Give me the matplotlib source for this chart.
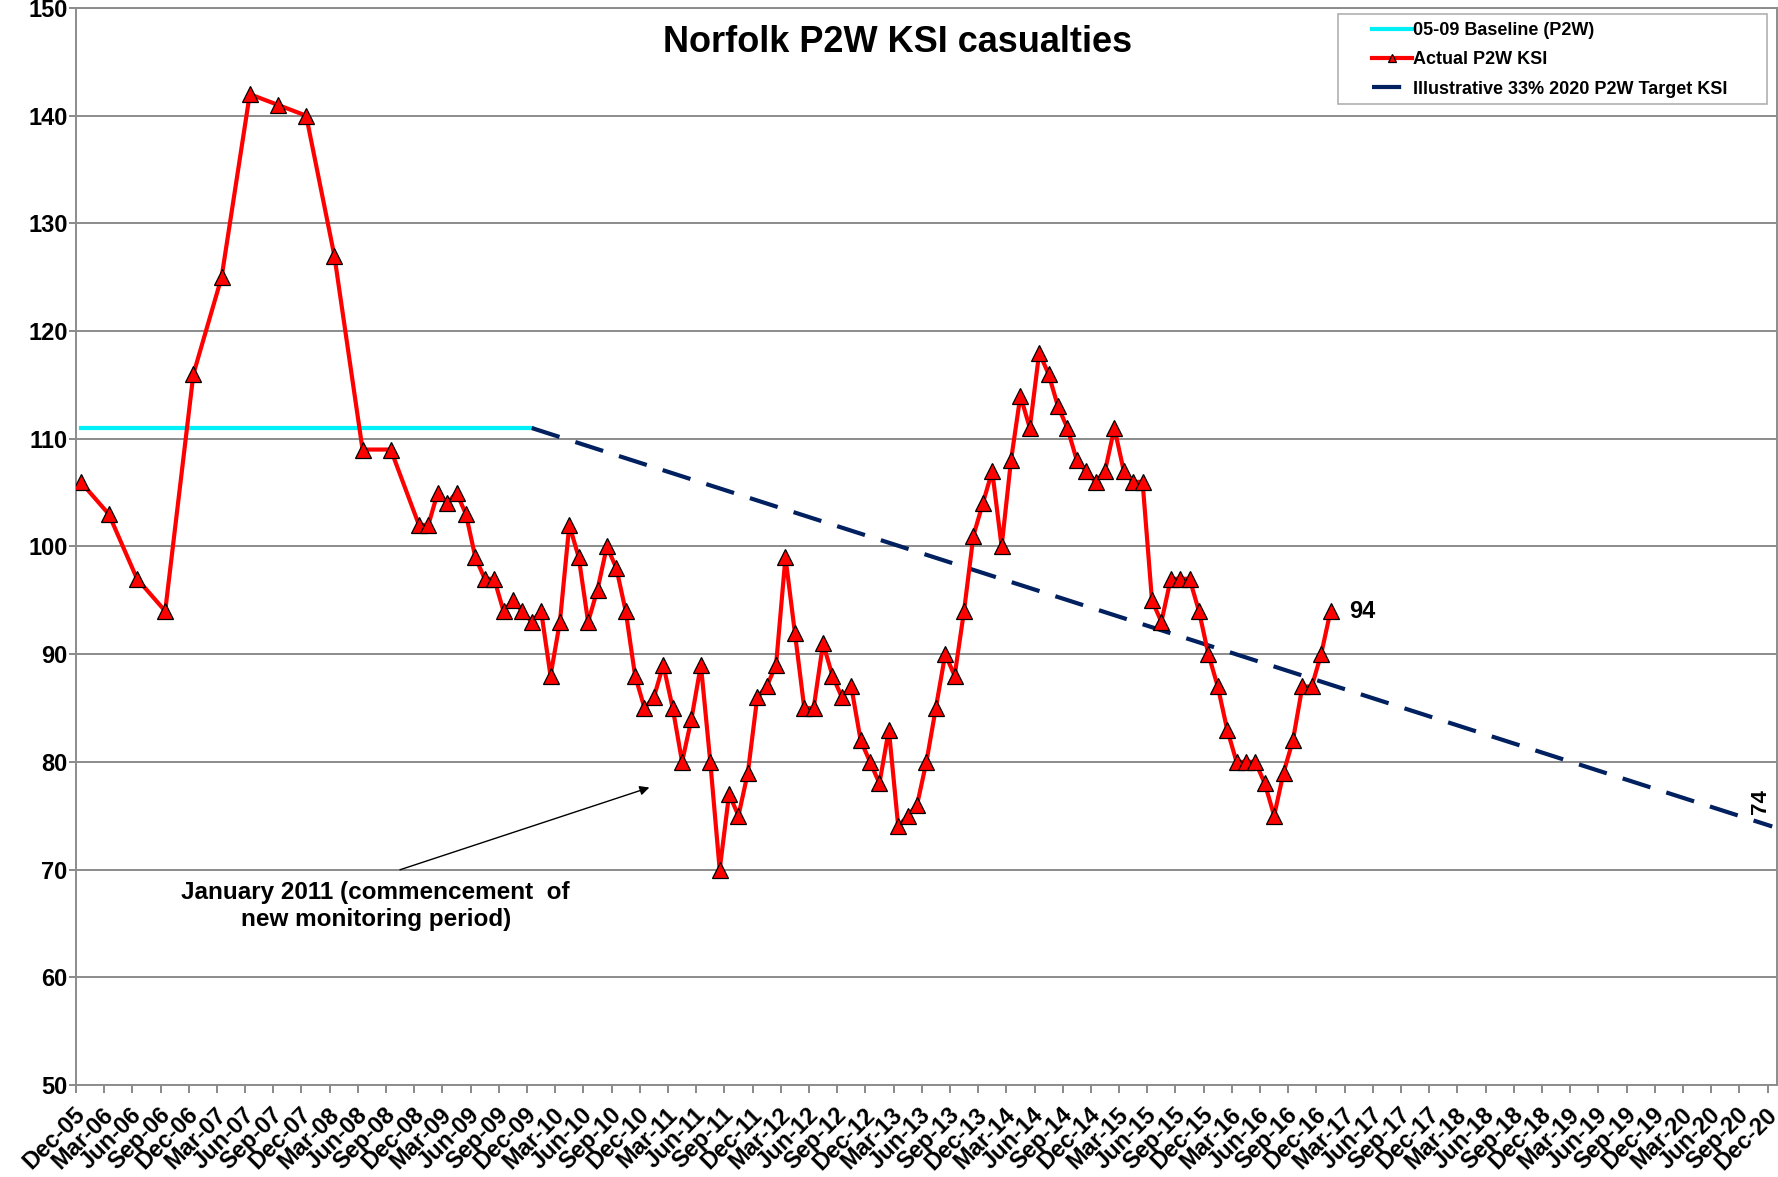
import matplotlib.pyplot as plt
import matplotlib.transforms as mtransforms
from matplotlib.patches import Rectangle

plt.rcParams['font.family'] = ['Liberation Sans', 'DejaVu Sans']
plt.rcParams['font.weight'] = 'bold'

# quarterly figures Dec-05 .. Sep-08
quarterly_ksi = [106, 103, 97, 94, 116, 125, 142, 141, 140, 127, 109, 109]
# monthly figures Dec-08 .. Jan-17
monthly_ksi = [102,
               102, 105, 104, 105, 103, 99, 97, 97, 94, 95, 94, 93,
               94, 88, 93, 102, 99, 93, 96, 100, 98, 94, 88, 85,
               86, 89, 85, 80, 84, 89, 80, 70, 77, 75, 79, 86,
               87, 89, 99, 92, 85, 85, 91, 88, 86, 87, 82, 80,
               78, 83, 74, 75, 76, 80, 85, 90, 88, 94, 101, 104,
               107, 100, 108, 114, 111, 118, 116, 113, 111, 108, 107, 106,
               107, 111, 107, 106, 106, 95, 93, 97, 97, 97, 94, 90,
               87, 83, 80, 80, 80, 78, 75, 79, 82, 87, 87, 90,
               94]
quarterly_start = 'Dec-05'
monthly_start = 'Dec-08'

baseline_dates = ['Dec-05', 'Dec-09']
baseline_values = [111, 111]
target_dates = ['Dec-09', 'Dec-20']
target_values = [111, 74]

months = ['Jan', 'Feb', 'Mar', 'Apr', 'May', 'Jun',
          'Jul', 'Aug', 'Sep', 'Oct', 'Nov', 'Dec']
tick_labels = ['Dec-05'] + ['%s-%02d' % (m, y) for y in range(6, 21)
                            for m in ['Mar', 'Jun', 'Sep', 'Dec']]


def month_index(label):
    # months since Dec-05
    m, y = label.split('-')
    return (int(y) - 5) * 12 + months.index(m) + 1 - 12


q0 = month_index(quarterly_start)
m0 = month_index(monthly_start)
actual_x = [q0 + 3 * i for i in range(len(quarterly_ksi))] + \
           [m0 + i for i in range(len(monthly_ksi))]
actual_y = quarterly_ksi + monthly_ksi

fig = plt.figure(figsize=(17.78, 11.77), dpi=100)
ax = fig.add_axes([0.0427, 0.0782, 0.9567, 0.915])

ax.plot([month_index(d) for d in baseline_dates], baseline_values,
        color='#00f0f8', lw=3, label='05-09 Baseline (P2W)', zorder=3)
ax.plot(actual_x, actual_y, color='#ff0000', lw=3, marker='^',
        markersize=12, markerfacecolor='#ff0000', markeredgecolor='black',
        markeredgewidth=0.9, label='Actual P2W KSI', zorder=5)
ax.plot([month_index(d) for d in target_dates], target_values,
        color='#002060', lw=3, dashes=(7, 4),
        label='Illustrative 33% 2020 P2W Target KSI', zorder=4)

# end labels
ax.text(actual_x[-1] + 2, actual_y[-1], str(actual_y[-1]), fontsize=17,
        ha='left', va='center')
ax.text(month_index(target_dates[-1]) - 1.3, target_values[-1] + 1.2,
        str(target_values[-1]), fontsize=16, rotation=90, ha='center',
        va='bottom')

ax.annotate('', xy=(60.8, 77.7), xytext=(33.7, 69.9),
            arrowprops=dict(arrowstyle='-|>', color='black', lw=1,
                            mutation_scale=14))
ax.text(31.4, 66.6, 'January 2011 (commencement  of\nnew monitoring period)',
        fontsize=17.5, ha='center', va='center', linespacing=1.2)

ax.text(0.483, 0.968, 'Norfolk P2W KSI casualties', transform=ax.transAxes,
        fontsize=26, ha='center', va='center')

ax.set_xlim(-0.5, 180.5)
ax.set_ylim(50, 150)
ax.set_yticks(range(50, 151, 10))
ax.set_xticks(range(0, 181, 3))
ax.set_xticklabels(tick_labels, rotation=45, ha='right', va='top',
                   rotation_mode='anchor')
ax.set_xticks([x - 0.5 for x in range(0, 181, 3)], minor=True)
ax.tick_params(axis='x', which='major', length=0, pad=13, labelsize=17)
ax.tick_params(axis='x', which='minor', length=6, width=1.3,
               color='#808080', direction='out')
ax.tick_params(axis='y', length=5, width=1.3, color='#808080',
               labelsize=17, pad=1)

# nudge the slanted date labels a little to the left
shift = mtransforms.ScaledTranslation(-0.07, 0, fig.dpi_scale_trans)
for lbl in ax.get_xticklabels():
    lbl.set_transform(lbl.get_transform() + shift)

ax.yaxis.grid(True, color='#8c8c8c', lw=1.4)
ax.set_axisbelow(True)
for s in ax.spines.values():
    s.set_color('#8c8c8c')
    s.set_linewidth(1.4)

# legend box drawn separately so the frame can be wider than the entries
ax.add_patch(Rectangle((0.742, 0.911), 0.252, 0.0834, transform=ax.transAxes,
                       facecolor='white', edgecolor='#b0b0b0', lw=1.2,
                       zorder=6))
leg = ax.legend(loc='upper left', bbox_to_anchor=(0.762, 0.987),
                borderaxespad=0, borderpad=0, frameon=False, fontsize=13,
                handlelength=2.2, handletextpad=0.05, labelspacing=0.68,
                markerscale=0.5)
leg.set_zorder(7)

fig.savefig('out.png', dpi=100)
